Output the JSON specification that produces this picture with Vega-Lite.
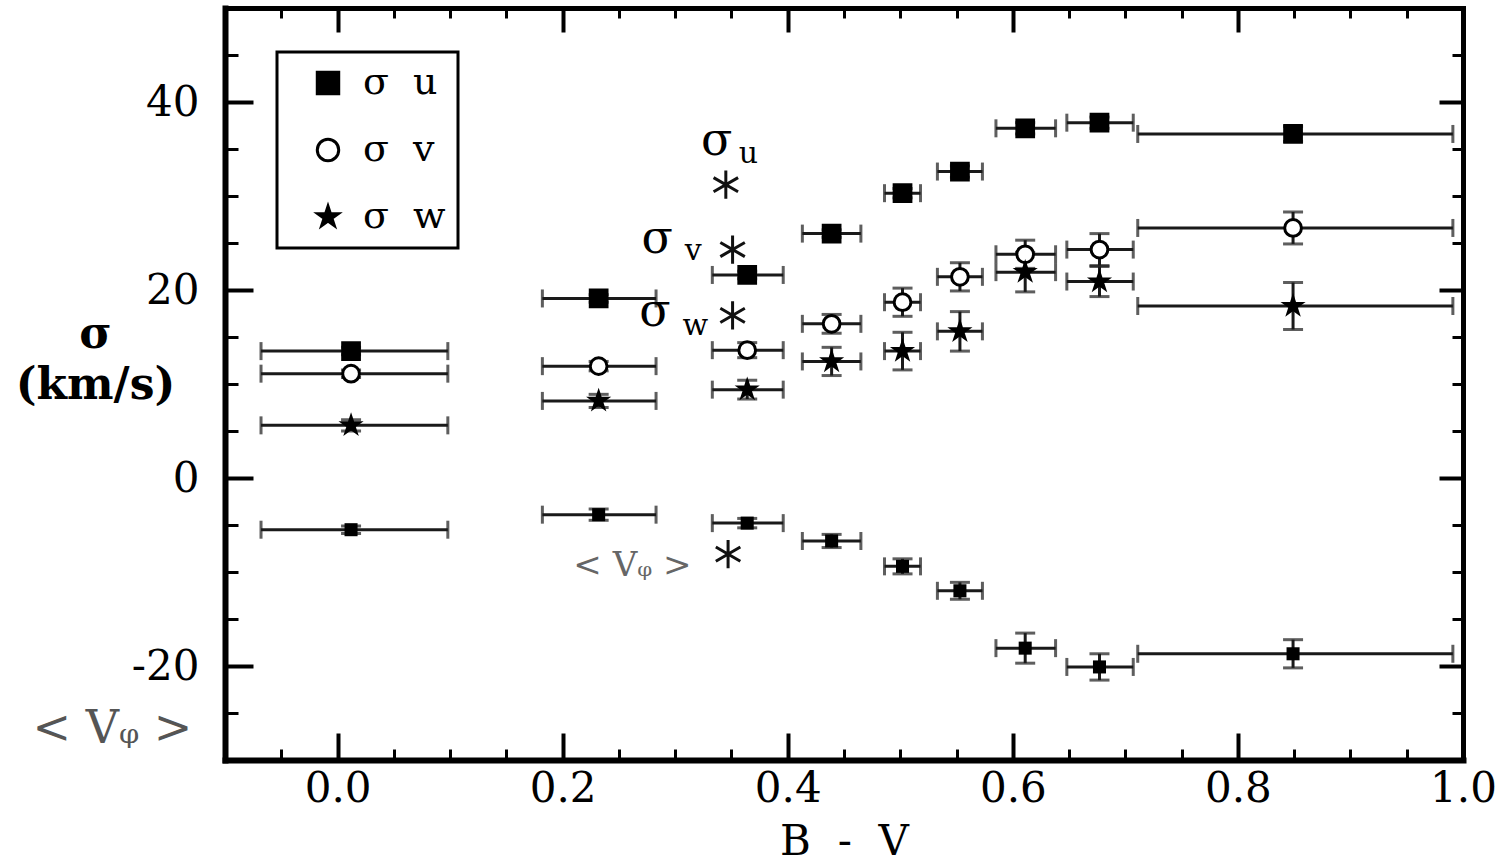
{
  "$schema": "https://vega.github.io/schema/vega-lite/v6.json",
  "width": 1238,
  "height": 752,
  "autosize": {"type": "none"},
  "padding": {"left": 225, "top": 8, "right": 47, "bottom": 106},
  "background": "white",
  "config": {
    "view": {"stroke": null},
    "font": "DejaVu Serif",
    "axis": {"grid": false, "labelFont": "DejaVu Serif", "titleFont": "DejaVu Serif", "labelColor": "black", "titleColor": "black", "tickColor": "black", "domainColor": "black", "labelFlush": false, "labelOverlap": false},
    "legend": {"orient": "none", "legendX": 52, "legendY": 44, "strokeColor": "black", "strokeWidth": 3, "fillColor": "white", "padding": 12, "labelFont": "DejaVu Serif", "labelFontSize": 38, "labelColor": "black", "symbolSize": 460, "symbolStrokeWidth": 3, "symbolStrokeColor": "black", "rowPadding": 29, "labelOffset": 16, "symbolOffset": 20}
  },
  "datasets": {
    "pts": [
      {"bv": 0.012, "lo": -0.068, "hi": 0.098, "comp": "σ\u00a0\u00a0u", "val": 13.5, "vlo": 13.1, "vhi": 13.9},
      {"bv": 0.012, "lo": -0.068, "hi": 0.098, "comp": "σ\u00a0\u00a0v", "val": 11.1, "vlo": 10.7, "vhi": 11.5},
      {"bv": 0.012, "lo": -0.068, "hi": 0.098, "comp": "σ\u00a0\u00a0w", "val": 5.6, "vlo": 5.0, "vhi": 6.2},
      {"bv": 0.012, "lo": -0.068, "hi": 0.098, "comp": "Vphi", "val": -5.5, "vlo": -5.9, "vhi": -5.1},
      {"bv": 0.232, "lo": 0.182, "hi": 0.283, "comp": "σ\u00a0\u00a0u", "val": 19.1, "vlo": 18.7, "vhi": 19.5},
      {"bv": 0.232, "lo": 0.182, "hi": 0.283, "comp": "σ\u00a0\u00a0v", "val": 11.9, "vlo": 11.4, "vhi": 12.4},
      {"bv": 0.232, "lo": 0.182, "hi": 0.283, "comp": "σ\u00a0\u00a0w", "val": 8.2, "vlo": 7.5, "vhi": 8.9},
      {"bv": 0.232, "lo": 0.182, "hi": 0.283, "comp": "Vphi", "val": -3.9, "vlo": -4.5, "vhi": -3.3},
      {"bv": 0.364, "lo": 0.333, "hi": 0.396, "comp": "σ\u00a0\u00a0u", "val": 21.6, "vlo": 21.2, "vhi": 22.0},
      {"bv": 0.364, "lo": 0.333, "hi": 0.396, "comp": "σ\u00a0\u00a0v", "val": 13.6, "vlo": 12.8, "vhi": 14.4},
      {"bv": 0.364, "lo": 0.333, "hi": 0.396, "comp": "σ\u00a0\u00a0w", "val": 9.4, "vlo": 8.4, "vhi": 10.4},
      {"bv": 0.364, "lo": 0.333, "hi": 0.396, "comp": "Vphi", "val": -4.8, "vlo": -5.3, "vhi": -4.3},
      {"bv": 0.439, "lo": 0.413, "hi": 0.465, "comp": "σ\u00a0\u00a0u", "val": 26.0, "vlo": 25.6, "vhi": 26.4},
      {"bv": 0.439, "lo": 0.413, "hi": 0.465, "comp": "σ\u00a0\u00a0v", "val": 16.4, "vlo": 15.4, "vhi": 17.4},
      {"bv": 0.439, "lo": 0.413, "hi": 0.465, "comp": "σ\u00a0\u00a0w", "val": 12.4, "vlo": 10.9, "vhi": 13.9},
      {"bv": 0.439, "lo": 0.413, "hi": 0.465, "comp": "Vphi", "val": -6.7, "vlo": -7.4, "vhi": -6.0},
      {"bv": 0.502, "lo": 0.486, "hi": 0.518, "comp": "σ\u00a0\u00a0u", "val": 30.3, "vlo": 29.8, "vhi": 30.8},
      {"bv": 0.502, "lo": 0.486, "hi": 0.518, "comp": "σ\u00a0\u00a0v", "val": 18.7, "vlo": 17.2, "vhi": 20.2},
      {"bv": 0.502, "lo": 0.486, "hi": 0.518, "comp": "σ\u00a0\u00a0w", "val": 13.5, "vlo": 11.5, "vhi": 15.5},
      {"bv": 0.502, "lo": 0.486, "hi": 0.518, "comp": "Vphi", "val": -9.4, "vlo": -10.2, "vhi": -8.6},
      {"bv": 0.553, "lo": 0.533, "hi": 0.573, "comp": "σ\u00a0\u00a0u", "val": 32.6, "vlo": 32.0, "vhi": 33.2},
      {"bv": 0.553, "lo": 0.533, "hi": 0.573, "comp": "σ\u00a0\u00a0v", "val": 21.4, "vlo": 19.9, "vhi": 22.9},
      {"bv": 0.553, "lo": 0.533, "hi": 0.573, "comp": "σ\u00a0\u00a0w", "val": 15.6, "vlo": 13.5, "vhi": 17.7},
      {"bv": 0.553, "lo": 0.533, "hi": 0.573, "comp": "Vphi", "val": -12.0, "vlo": -12.9, "vhi": -11.1},
      {"bv": 0.611, "lo": 0.585, "hi": 0.638, "comp": "σ\u00a0\u00a0u", "val": 37.2, "vlo": 36.6, "vhi": 37.8},
      {"bv": 0.611, "lo": 0.585, "hi": 0.638, "comp": "σ\u00a0\u00a0v", "val": 23.8, "vlo": 22.3, "vhi": 25.3},
      {"bv": 0.611, "lo": 0.585, "hi": 0.638, "comp": "σ\u00a0\u00a0w", "val": 21.9, "vlo": 19.8, "vhi": 24.0},
      {"bv": 0.611, "lo": 0.585, "hi": 0.638, "comp": "Vphi", "val": -18.1, "vlo": -19.7, "vhi": -16.5},
      {"bv": 0.677, "lo": 0.648, "hi": 0.707, "comp": "σ\u00a0\u00a0u", "val": 37.8, "vlo": 37.2, "vhi": 38.4},
      {"bv": 0.677, "lo": 0.648, "hi": 0.707, "comp": "σ\u00a0\u00a0v", "val": 24.3, "vlo": 22.6, "vhi": 26.0},
      {"bv": 0.677, "lo": 0.648, "hi": 0.707, "comp": "σ\u00a0\u00a0w", "val": 20.9, "vlo": 19.3, "vhi": 22.5},
      {"bv": 0.677, "lo": 0.648, "hi": 0.707, "comp": "Vphi", "val": -20.1, "vlo": -21.5, "vhi": -18.7},
      {"bv": 0.849, "lo": 0.711, "hi": 0.991, "comp": "σ\u00a0\u00a0u", "val": 36.6, "vlo": 35.8, "vhi": 37.4},
      {"bv": 0.849, "lo": 0.711, "hi": 0.991, "comp": "σ\u00a0\u00a0v", "val": 26.6, "vlo": 24.9, "vhi": 28.3},
      {"bv": 0.849, "lo": 0.711, "hi": 0.991, "comp": "σ\u00a0\u00a0w", "val": 18.3, "vlo": 15.8, "vhi": 20.8},
      {"bv": 0.849, "lo": 0.711, "hi": 0.991, "comp": "Vphi", "val": -18.7, "vlo": -20.2, "vhi": -17.2}
    ],
    "ast": [
      {"x": 0.345, "y": 31.2},
      {"x": 0.351, "y": 24.3},
      {"x": 0.351, "y": 17.3},
      {"x": 0.347, "y": -8.1}
    ],
    "sigmain": [
      {"x": 0.337, "y": 35.9, "t": "σ"},
      {"x": 0.284, "y": 25.4, "t": "σ"},
      {"x": 0.282, "y": 17.7, "t": "σ"}
    ],
    "sigsub": [
      {"x": 0.365, "y": 34.5, "t": "u"},
      {"x": 0.316, "y": 24.1, "t": "v"},
      {"x": 0.318, "y": 16.2, "t": "w"}
    ],
    "vin": [{"x": 0.262, "y": -9.4, "t": "< Vᵩ >"}],
    "vout": [{"x": -0.2, "y": -26.7, "t": "< Vᵩ >"}]
  },
  "layer": [
    {
      "data": {"name": "pts"},
      "mark": {"type": "rule", "color": "#1a1a1a", "strokeWidth": 3},
      "encoding": {
        "x": {"field": "lo", "type": "quantitative", "scale": {"domain": [-0.1, 1.0], "nice": false, "zero": false},
          "axis": {"orient": "bottom", "values": [0, 0.2, 0.4, 0.6, 0.8, 1.0], "format": ".1f", "ticks": false, "labelPadding": 8, "labelFontSize": 42, "labelBaseline": "top", "domain": true, "domainWidth": 6, "domainCap": "square", "title": "B\u00a0\u00a0-\u00a0\u00a0V", "titleFontSize": 42, "titleFontWeight": "normal", "titleY": 94, "titleBaseline": "alphabetic"}},
        "x2": {"field": "hi"},
        "y": {"field": "val", "type": "quantitative", "scale": {"domain": [-30, 50], "nice": false, "zero": false},
          "axis": {"orient": "left", "values": [-20, 0, 20, 40], "labelExpr": "'' + datum.value", "ticks": false, "labelPadding": 26, "labelFontSize": 42, "domain": true, "domainWidth": 6, "domainCap": "square", "title": ["σ", "(km/s)"], "titleAngle": 0, "titleX": -130, "titleY": 339, "titleAlign": "center", "titleBaseline": "alphabetic", "titleFontSize": 44, "titleFontWeight": "bold", "titleLineHeight": 51}}
      }
    },
    {
      "data": {"name": "pts"},
      "mark": {"type": "tick", "orient": "vertical", "size": 18, "thickness": 3, "color": "#1a1a1a"},
      "encoding": {
        "x": {"field": "lo", "type": "quantitative", "axis": {"orient": "bottom", "values": [0, 0.2, 0.4, 0.6, 0.8, 1.0], "labels": false, "domain": false, "tickSize": -27, "tickWidth": 4, "title": null}},
        "y": {"field": "val", "type": "quantitative", "axis": {"orient": "left", "values": [-20, 0, 20, 40], "labels": false, "domain": false, "tickSize": -28, "tickWidth": 4, "title": null}}
      }
    },
    {
      "data": {"name": "pts"},
      "mark": {"type": "tick", "orient": "vertical", "size": 18, "thickness": 3, "color": "#1a1a1a"},
      "encoding": {
        "x": {"field": "hi", "type": "quantitative", "axis": {"orient": "bottom", "values": [-0.05, 0.05, 0.1, 0.15, 0.25, 0.3, 0.35, 0.45, 0.5, 0.55, 0.65, 0.7, 0.75, 0.85, 0.9, 0.95], "labels": false, "domain": false, "tickSize": -11, "tickWidth": 3, "title": null}},
        "y": {"field": "val", "type": "quantitative", "axis": {"orient": "left", "values": [-25, -15, -10, -5, 5, 10, 15, 25, 30, 35, 45], "labels": false, "domain": false, "tickSize": -13, "tickWidth": 3, "title": null}}
      }
    },
    {
      "data": {"name": "pts"},
      "mark": {"type": "rule", "color": "#1a1a1a", "strokeWidth": 3},
      "encoding": {
        "x": {"field": "bv", "type": "quantitative", "axis": {"orient": "top", "values": [0, 0.2, 0.4, 0.6, 0.8, 1.0], "labels": false, "domain": true, "domainWidth": 5, "domainCap": "square", "tickSize": -24, "tickWidth": 4, "title": null}},
        "y": {"field": "vlo", "type": "quantitative", "axis": {"orient": "right", "values": [-20, 0, 20, 40], "labels": false, "domain": true, "domainWidth": 5, "domainCap": "square", "tickSize": -24, "tickWidth": 4, "title": null}},
        "y2": {"field": "vhi"}
      }
    },
    {
      "data": {"name": "pts"},
      "mark": {"type": "tick", "orient": "horizontal", "size": 20, "thickness": 3, "color": "#1a1a1a"},
      "encoding": {
        "x": {"field": "bv", "type": "quantitative", "axis": {"orient": "top", "values": [-0.05, 0.05, 0.1, 0.15, 0.25, 0.3, 0.35, 0.45, 0.5, 0.55, 0.65, 0.7, 0.75, 0.85, 0.9, 0.95], "labels": false, "domain": false, "tickSize": -10, "tickWidth": 3, "title": null}},
        "y": {"field": "vlo", "type": "quantitative", "axis": {"orient": "right", "values": [-25, -15, -10, -5, 5, 10, 15, 25, 30, 35, 45], "labels": false, "domain": false, "tickSize": -11, "tickWidth": 3, "title": null}}
      }
    },
    {
      "data": {"name": "pts"},
      "mark": {"type": "tick", "orient": "horizontal", "size": 20, "thickness": 3, "color": "#1a1a1a"},
      "encoding": {
        "x": {"field": "bv", "type": "quantitative", "axis": null},
        "y": {"field": "vhi", "type": "quantitative", "axis": null}
      }
    },
    {
      "data": {"name": "pts"},
      "transform": [{"filter": "datum.comp === 'Vphi'"}],
      "mark": {"type": "point", "shape": "square", "filled": true, "color": "black", "size": 170, "opacity": 1},
      "encoding": {
        "x": {"field": "bv", "type": "quantitative", "axis": null},
        "y": {"field": "val", "type": "quantitative", "axis": null}
      }
    },
    {
      "data": {"name": "pts"},
      "transform": [{"filter": "datum.comp !== 'Vphi'"}],
      "mark": {"type": "point", "filled": true, "strokeWidth": 3, "opacity": 1, "size": 280},
      "encoding": {
        "x": {"field": "bv", "type": "quantitative", "axis": null},
        "y": {"field": "val", "type": "quantitative", "axis": null},
        "shape": {"field": "comp", "type": "nominal", "scale": {"domain": ["σ\u00a0\u00a0u", "σ\u00a0\u00a0v", "σ\u00a0\u00a0w"], "range": ["square", "circle", "M0,-1L0.2245,-0.309L0.951,-0.309L0.3633,0.118L0.588,0.809L0,0.382L-0.588,0.809L-0.3633,0.118L-0.951,-0.309L-0.2245,-0.309Z"]}, "legend": {"title": null, "symbolSize": 460}},
        "fill": {"field": "comp", "type": "nominal", "scale": {"domain": ["σ\u00a0\u00a0u", "σ\u00a0\u00a0v", "σ\u00a0\u00a0w"], "range": ["black", "white", "black"]}, "legend": {"title": null, "symbolSize": 460}},
        "stroke": {"field": "comp", "type": "nominal", "scale": {"domain": ["σ\u00a0\u00a0u", "σ\u00a0\u00a0v", "σ\u00a0\u00a0w"], "range": ["black", "black", "black"]}, "legend": {"title": null, "symbolSize": 460}}
      }
    },
    {
      "data": {"name": "ast"},
      "mark": {"type": "point", "shape": "M0,-1L0,1M-0.866,-0.5L0.866,0.5M-0.866,0.5L0.866,-0.5", "filled": false, "stroke": "#111", "strokeWidth": 3, "size": 800, "opacity": 1},
      "encoding": {
        "x": {"field": "x", "type": "quantitative", "axis": null},
        "y": {"field": "y", "type": "quantitative", "axis": null}
      }
    },
    {
      "data": {"name": "sigmain"},
      "mark": {"type": "text", "font": "DejaVu Serif", "fontSize": 46, "color": "black", "baseline": "middle", "align": "center"},
      "encoding": {
        "x": {"field": "x", "type": "quantitative", "axis": null},
        "y": {"field": "y", "type": "quantitative", "axis": null},
        "text": {"field": "t"}
      }
    },
    {
      "data": {"name": "sigsub"},
      "mark": {"type": "text", "font": "DejaVu Serif", "fontSize": 30, "color": "black", "baseline": "middle", "align": "center"},
      "encoding": {
        "x": {"field": "x", "type": "quantitative", "axis": null},
        "y": {"field": "y", "type": "quantitative", "axis": null},
        "text": {"field": "t"}
      }
    },
    {
      "data": {"name": "vin"},
      "mark": {"type": "text", "font": "DejaVu Serif", "fontSize": 34, "color": "#666", "baseline": "middle", "align": "center"},
      "encoding": {
        "x": {"field": "x", "type": "quantitative", "axis": null},
        "y": {"field": "y", "type": "quantitative", "axis": null},
        "text": {"field": "t"}
      }
    },
    {
      "data": {"name": "vout"},
      "mark": {"type": "text", "font": "DejaVu Serif", "fontSize": 46, "color": "#555", "baseline": "middle", "align": "center"},
      "encoding": {
        "x": {"field": "x", "type": "quantitative", "axis": null},
        "y": {"field": "y", "type": "quantitative", "axis": null},
        "text": {"field": "t"}
      }
    }
  ],
  "resolve": {"scale": {"x": "shared", "y": "shared"}, "axis": {"x": "independent", "y": "independent"}}
}
